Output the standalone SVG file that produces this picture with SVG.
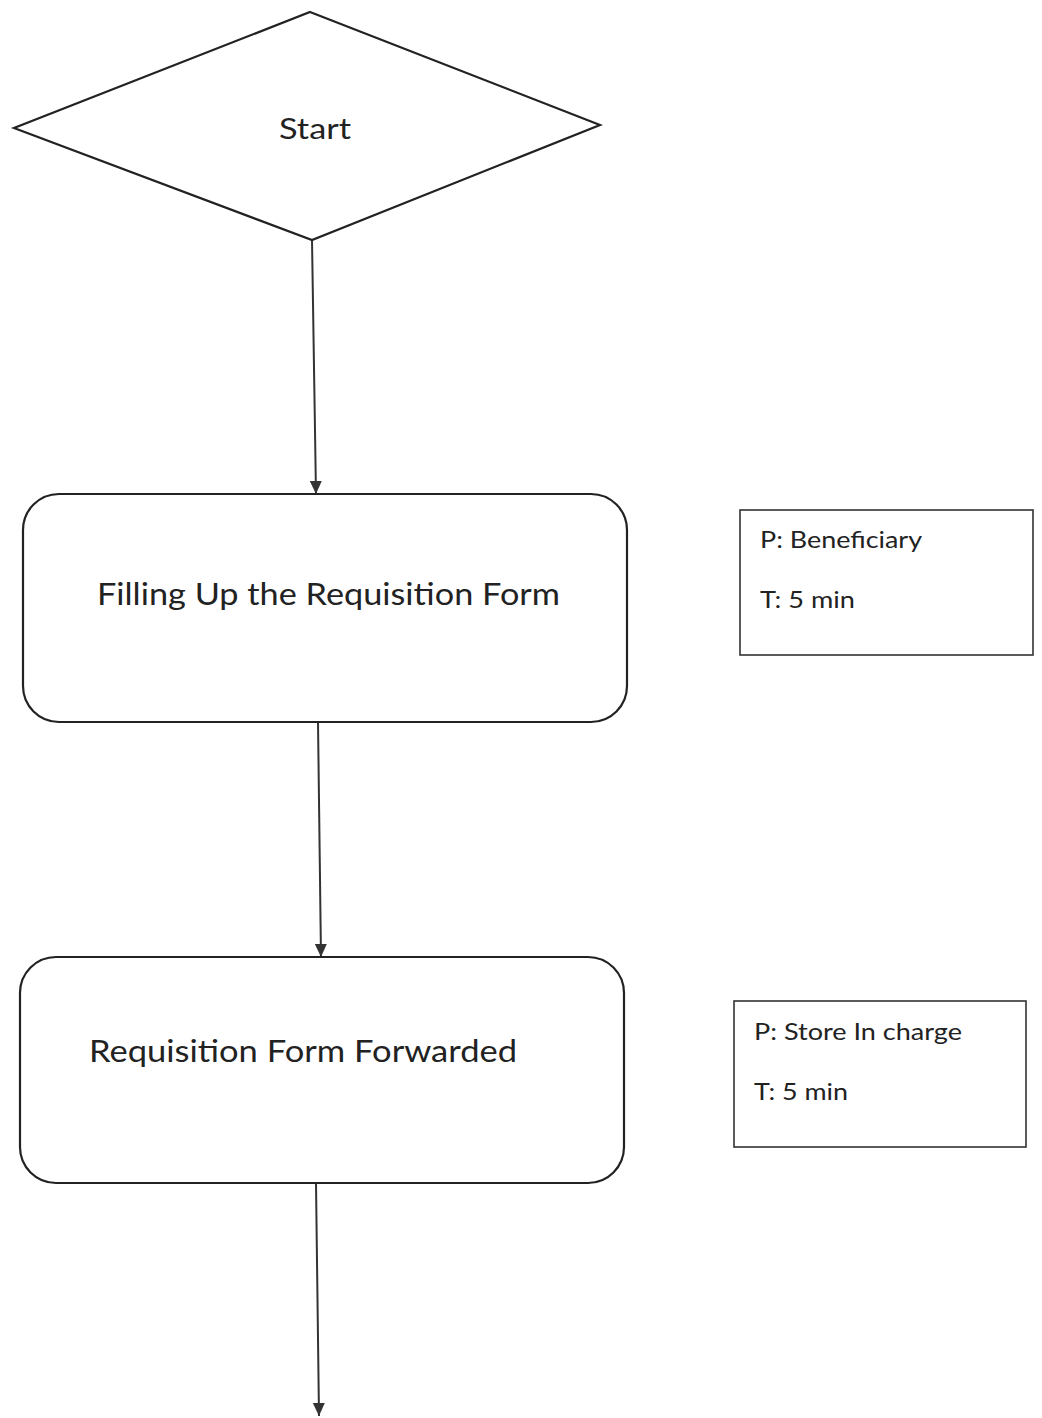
<svg xmlns="http://www.w3.org/2000/svg" width="1042" height="1418" viewBox="0 0 1042 1418">
<style>
.shape{fill:#fff;stroke:#222;stroke-width:2.2}
.info{fill:#fff;stroke:#333;stroke-width:1.6}
.t{font-family:Lato,"Open Sans","Liberation Sans",sans-serif;fill:#222}
.edge{stroke:#333;stroke-width:2;fill:none}
</style>
<defs>
<marker id="ah" markerWidth="14" markerHeight="14" refX="13" refY="6" orient="auto" markerUnits="userSpaceOnUse">
<path d="M0,0 L13,6 L0,12 Z" fill="#333"/>
</marker>
</defs>
<rect width="1042" height="1418" fill="#fff"/>
<g id="connectors">
<line class="edge" x1="312" y1="240" x2="316" y2="494" marker-end="url(#ah)"/>
<line class="edge" x1="318" y1="722" x2="321" y2="957" marker-end="url(#ah)"/>
<line class="edge" x1="316" y1="1183" x2="319" y2="1416" marker-end="url(#ah)"/>
</g>
<g id="start">
<polygon class="shape" points="310,12 600,125 312,240 14,128"/>
<text class="t" x="315" y="139" font-size="28" text-anchor="middle" textLength="72" lengthAdjust="spacingAndGlyphs">Start</text>
</g>
<g id="fill-form">
<rect class="shape" x="23" y="494" width="604" height="228" rx="36"/>
<text class="t" x="97" y="605" font-size="31" textLength="463" lengthAdjust="spacingAndGlyphs">Filling Up the Requisition Form</text>
</g>
<g id="info-1">
<rect class="info" x="740" y="510" width="293" height="145"/>
<text class="t" x="760" y="548" font-size="23" textLength="162" lengthAdjust="spacingAndGlyphs">P: Beneficiary</text>
<text class="t" x="760" y="608" font-size="23" textLength="95" lengthAdjust="spacingAndGlyphs">T: 5 min</text>
</g>
<g id="form-forwarded">
<rect class="shape" x="20" y="957" width="604" height="226" rx="36"/>
<text class="t" x="89" y="1062" font-size="31" textLength="428" lengthAdjust="spacingAndGlyphs">Requisition Form Forwarded</text>
</g>
<g id="info-2">
<rect class="info" x="734" y="1001" width="292" height="146"/>
<text class="t" x="754" y="1040" font-size="23" textLength="208" lengthAdjust="spacingAndGlyphs">P: Store In charge</text>
<text class="t" x="754" y="1100" font-size="23" textLength="94" lengthAdjust="spacingAndGlyphs">T: 5 min</text>
</g>
</svg>
